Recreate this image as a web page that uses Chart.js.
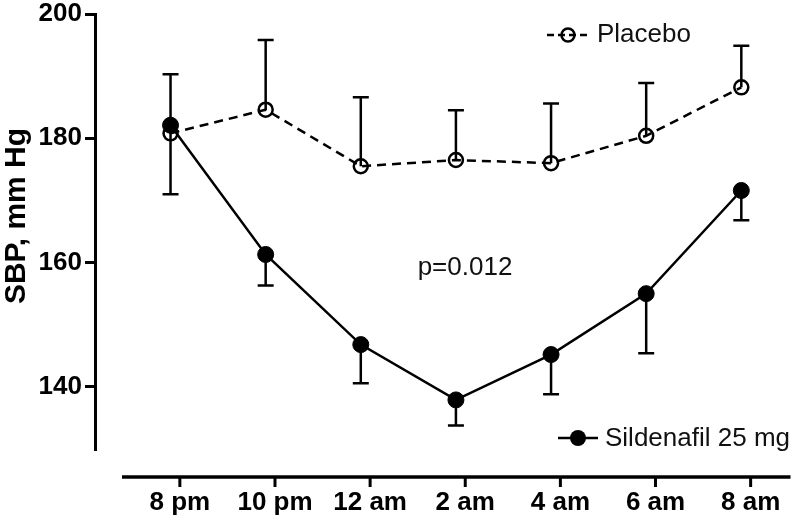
<!DOCTYPE html>
<html>
<head>
<meta charset="utf-8">
<script src="https://cdn.jsdelivr.net/npm/chart.js@4/dist/chart.umd.min.js"></script>
<style>
  body { margin: 0; background: #fff; }
  #chart { display: block; }
</style>
</head>
<body>
<canvas id="chart" width="800" height="523"></canvas>
<script>
// Time points and values
const timeLabels = ['8 pm', '10 pm', '12 am', '2 am', '4 am', '6 am', '8 am'];
const placebo = [180.8, 184.6, 175.5, 176.5, 176.0, 180.4, 188.2];
const placeboUpper = [190.3, 195.8, 186.6, 184.5, 185.6, 188.9, 194.9];
const sildenafil = [182.1, 161.3, 146.8, 137.9, 145.2, 155.0, 171.6];
const sildenafilLower = [171.0, 156.3, 140.6, 133.8, 138.8, 145.4, 166.8];
const yTicks = [140, 160, 180, 200];

const FONT = "'Liberation Sans', Arial, Helvetica, sans-serif";

function toPoints(values) {
    return values.map((v, i) => ({ x: i, y: v }));
}

// Error bars, the offset x axis line, legend and annotation
const extras = {
    id: 'extras',
    beforeDatasetsDraw(chart) {
        const { ctx, scales } = chart;
        const x = scales.x, y = scales.y;
        ctx.save();
        ctx.strokeStyle = '#000';
        ctx.lineWidth = 2.5;
        const bar = (i, from, to) => {
            const px = x.getPixelForValue(i);
            const y0 = y.getPixelForValue(from);
            const y1 = y.getPixelForValue(to);
            ctx.beginPath();
            ctx.moveTo(px, y0);
            ctx.lineTo(px, y1);
            ctx.moveTo(px - 8, y1);
            ctx.lineTo(px + 8, y1);
            ctx.stroke();
        };
        placebo.forEach((v, i) => bar(i, v, placeboUpper[i]));
        sildenafil.forEach((v, i) => bar(i, v, sildenafilLower[i]));
        ctx.restore();
    },
    afterDraw(chart) {
        const { ctx, chartArea, scales } = chart;
        const xl = scales.xLab;
        ctx.save();
        ctx.strokeStyle = '#000';
        ctx.fillStyle = '#000';

        // x axis drawn below the plot, detached from the y axis
        const axisY = chartArea.bottom + 28;
        ctx.lineWidth = 3.3;
        ctx.beginPath();
        ctx.moveTo(122, axisY);
        ctx.lineTo(chartArea.right, axisY);
        ctx.stroke();
        ctx.lineWidth = 3;
        timeLabels.forEach((_, i) => {
            const px = xl.getPixelForValue(i);
            ctx.beginPath();
            ctx.moveTo(px, axisY);
            ctx.lineTo(px, axisY + 10);
            ctx.stroke();
        });

        // y axis title
        ctx.save();
        ctx.translate(17, 216);
        ctx.rotate(-Math.PI / 2);
        ctx.font = 'bold 30px ' + FONT;
        ctx.textAlign = 'center';
        ctx.textBaseline = 'middle';
        ctx.fillText('SBP, mm Hg', 0, 0);
        ctx.restore();

        // legend: Placebo
        ctx.lineWidth = 2.5;
        ctx.setLineDash([7, 4]);
        ctx.beginPath();
        ctx.moveTo(547, 35);
        ctx.lineTo(590, 35);
        ctx.stroke();
        ctx.setLineDash([]);
        ctx.beginPath();
        ctx.arc(568, 35, 6.5, 0, Math.PI * 2);
        ctx.stroke();

        // legend: Sildenafil
        ctx.beginPath();
        ctx.moveTo(558, 438);
        ctx.lineTo(598, 438);
        ctx.stroke();
        ctx.beginPath();
        ctx.arc(578, 438, 8, 0, Math.PI * 2);
        ctx.fill();

        ctx.font = '26px ' + FONT;
        ctx.textAlign = 'left';
        ctx.textBaseline = 'middle';
        ctx.fillStyle = '#111';
        ctx.fillText('Placebo', 597, 35);
        ctx.fillText('Sildenafil 25 mg', 605, 439);

        ctx.textAlign = 'center';
        ctx.fillText('p=0.012', 465, 268);
        ctx.restore();
    }
};

const config = {
    type: 'line',
    data: {
        datasets: [
            {
                label: 'Sildenafil 25 mg',
                data: toPoints(sildenafil),
                borderColor: '#000',
                borderWidth: 2.5,
                pointRadius: 8,
                pointBackgroundColor: '#000',
                pointBorderColor: '#000',
                pointBorderWidth: 1,
                tension: 0,
                order: 1
            },
            {
                label: 'Placebo',
                data: toPoints(placebo),
                borderColor: '#000',
                borderWidth: 2.5,
                borderDash: [9, 6],
                pointRadius: 7,
                pointBackgroundColor: 'rgba(0,0,0,0)',
                pointBorderColor: '#000',
                pointBorderWidth: 2.5,
                tension: 0,
                order: 2
            }
        ]
    },
    options: {
        responsive: false,
        devicePixelRatio: 1,
        animation: false,
        layout: {
            padding: { top: 14, right: 8, bottom: 0, left: 0 }
        },
        plugins: {
            legend: { display: false },
            tooltip: { enabled: false }
        },
        scales: {
            x: {
                type: 'linear',
                display: false,
                min: -0.794,
                max: 6.517
            },
            xLab: {
                type: 'linear',
                position: 'bottom',
                min: -0.892,
                max: 6.419,
                afterBuildTicks: function (scale) {
                    scale.ticks = timeLabels.map((_, i) => ({ value: i }));
                },
                afterFit: function (scale) {
                    scale.height = 74;
                    scale.paddingLeft = 0;
                    scale.paddingRight = 0;
                },
                grid: { display: false, drawTicks: false },
                border: { display: false },
                ticks: {
                    autoSkip: false,
                    maxRotation: 0,
                    padding: 41,
                    color: '#000',
                    font: { family: FONT, size: 26, weight: 'bold', lineHeight: 1 },
                    callback: function (value) {
                        return timeLabels[value];
                    }
                }
            },
            y: {
                type: 'linear',
                position: 'left',
                min: 130,
                max: 200,
                afterBuildTicks: function (scale) {
                    scale.ticks = yTicks.map(v => ({ value: v }));
                },
                afterFit: function (scale) {
                    scale.width = 95;
                    scale.paddingTop = 0;
                    scale.paddingBottom = 0;
                },
                grid: {
                    drawOnChartArea: false,
                    drawTicks: true,
                    tickLength: 10,
                    lineWidth: 3,
                    color: '#000'
                },
                border: { display: true, color: '#000', width: 3 },
                ticks: {
                    padding: 3,
                    color: '#000',
                    font: { family: FONT, size: 26, weight: 'bold', lineHeight: 1 }
                }
            }
        }
    },
    plugins: [extras]
};

new Chart(document.getElementById('chart'), config);
</script>
</body>
</html>
